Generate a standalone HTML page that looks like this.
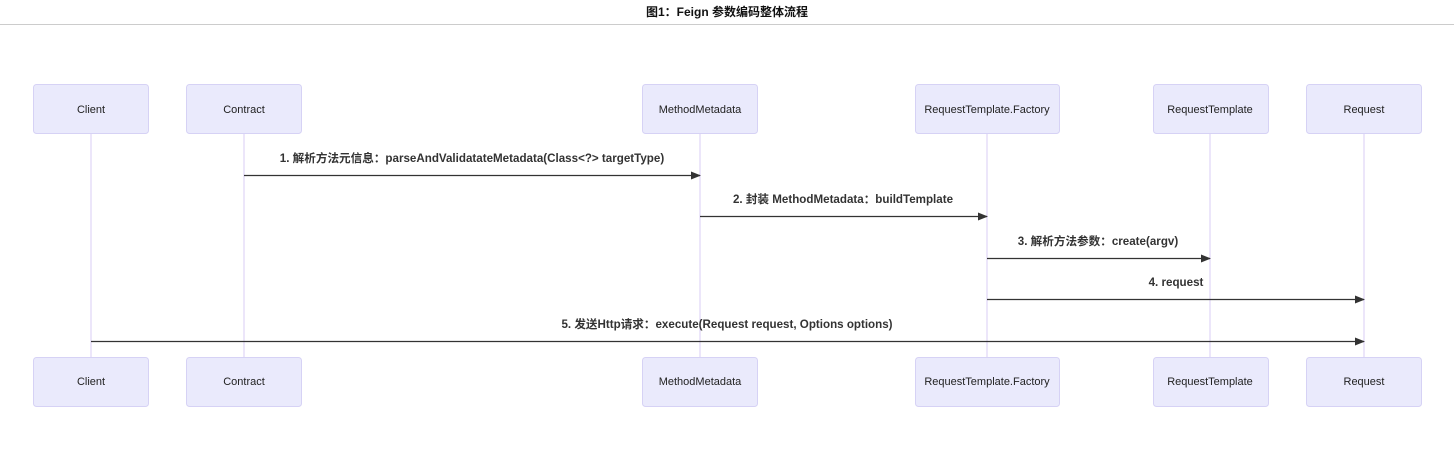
<!DOCTYPE html>
<html><head><meta charset="utf-8"><style>
body{margin:0;background:#fff;width:1454px;height:446px;overflow:hidden}
</style></head><body>
<svg width="1454" height="446" xmlns="http://www.w3.org/2000/svg" font-family="'Liberation Sans','Noto Sans CJK SC',sans-serif">
<defs><marker id="a" markerWidth="10" markerHeight="8" refX="9" refY="4" orient="auto" markerUnits="userSpaceOnUse"><path d="M0,0 L10,4 L0,8 z" fill="#333"/></marker></defs>
<text x="727" y="16" text-anchor="middle" font-size="12" font-weight="bold" fill="#111">图1：Feign 参数编码整体流程</text>
<line x1="0" y1="24.5" x2="1454" y2="24.5" stroke="#ccc"/>
<g stroke="#d8ccf5" stroke-width="1">
<line x1="91" y1="133" x2="91" y2="357"/><line x1="244" y1="133" x2="244" y2="357"/>
<line x1="700" y1="133" x2="700" y2="357"/><line x1="987" y1="133" x2="987" y2="357"/>
<line x1="1210" y1="133" x2="1210" y2="357"/><line x1="1364" y1="133" x2="1364" y2="357"/>
</g>
<g fill="#eaeafc" stroke="#d6d2f5" stroke-width="1">
<rect x="33.5" y="84.5" width="115" height="49" rx="3"/><rect x="186.5" y="84.5" width="115" height="49" rx="3"/>
<rect x="642.5" y="84.5" width="115" height="49" rx="3"/><rect x="915.5" y="84.5" width="144" height="49" rx="3"/>
<rect x="1153.5" y="84.5" width="115" height="49" rx="3"/><rect x="1306.5" y="84.5" width="115" height="49" rx="3"/>
<rect x="33.5" y="357.5" width="115" height="49" rx="3"/><rect x="186.5" y="357.5" width="115" height="49" rx="3"/>
<rect x="642.5" y="357.5" width="115" height="49" rx="3"/><rect x="915.5" y="357.5" width="144" height="49" rx="3"/>
<rect x="1153.5" y="357.5" width="115" height="49" rx="3"/><rect x="1306.5" y="357.5" width="115" height="49" rx="3"/>
</g>
<g font-size="11" fill="#222" text-anchor="middle">
<text x="91" y="113">Client</text><text x="244" y="113">Contract</text><text x="700" y="113">MethodMetadata</text>
<text x="987" y="113">RequestTemplate.Factory</text><text x="1210" y="113">RequestTemplate</text><text x="1364" y="113">Request</text>
<text x="91" y="385">Client</text><text x="244" y="385">Contract</text><text x="700" y="385">MethodMetadata</text>
<text x="987" y="385">RequestTemplate.Factory</text><text x="1210" y="385">RequestTemplate</text><text x="1364" y="385">Request</text>
</g>
<g stroke="#333" stroke-width="1.3" marker-end="url(#a)">
<line x1="244" y1="175.5" x2="700" y2="175.5"/><line x1="700" y1="216.5" x2="987" y2="216.5"/>
<line x1="987" y1="258.5" x2="1210" y2="258.5"/><line x1="987" y1="299.5" x2="1364" y2="299.5"/>
<line x1="91" y1="341.5" x2="1364" y2="341.5"/>
</g>
<g font-size="11.6" fill="#333" text-anchor="middle" font-weight="bold">
<text x="472" y="162">1. 解析方法元信息：parseAndValidatateMetadata(Class&lt;?&gt; targetType)</text>
<text x="843" y="203">2. 封装 MethodMetadata：buildTemplate</text>
<text x="1098" y="245">3. 解析方法参数：create(argv)</text>
<text x="1176" y="286">4. request</text>
<text x="727" y="328">5. 发送Http请求：execute(Request request, Options options)</text>
</g>
</svg>
</body></html>
